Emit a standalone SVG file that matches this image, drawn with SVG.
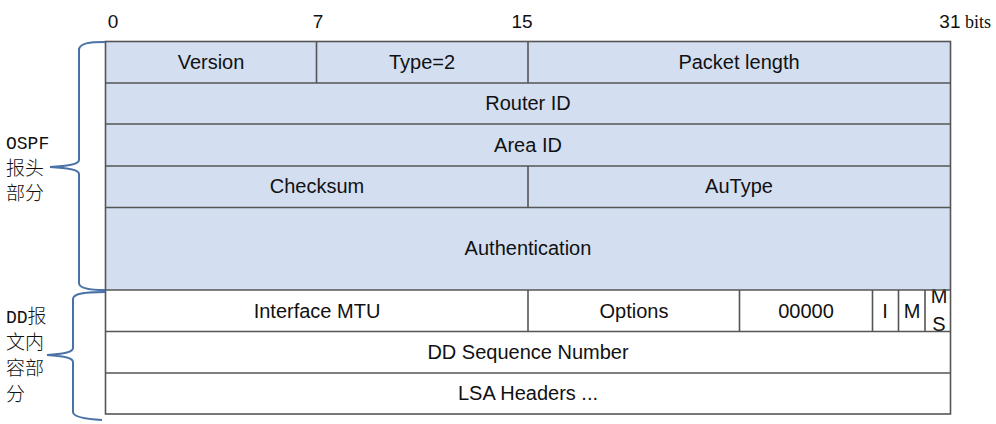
<svg xmlns="http://www.w3.org/2000/svg" width="996" height="424" viewBox="0 0 996 424">
<style>
.hdr{fill:#D3DFF1;stroke:none}
.ln{stroke:#555;stroke-width:1.6;fill:none}
.t{font-family:"Liberation Sans",Arial,sans-serif;font-size:20px;fill:#111;text-anchor:middle}
.b{font-family:"Liberation Sans",Arial,sans-serif;font-size:19px;fill:#111;text-anchor:middle}
.lab{font-family:"Liberation Mono","Noto Sans CJK SC",monospace;font-size:18px;fill:#111}
.cj{font-family:"Noto Sans CJK SC",sans-serif;font-size:19px;font-weight:300}
.br{stroke:#4A72A6;stroke-width:2;fill:none}
</style>
<rect width="996" height="424" fill="#fff"/>
<g id="bits">
<text class="b" x="113" y="28">0</text>
<text class="b" x="318" y="28">7</text>
<text class="b" x="522" y="28">15</text>
<text x="991" y="28" style="font-family:'Liberation Sans',sans-serif;font-size:19px;fill:#111;text-anchor:end">31<tspan style="font-family:'Liberation Serif',serif;font-size:18px"> bits</tspan></text>
</g>
<g id="header-bg"><rect class="hdr" x="105" y="41" width="846" height="249"/></g>
<g id="row-version"><text class="t" x="211" y="69">Version</text></g>
<g id="row-type"><text class="t" x="422" y="69">Type=2</text></g>
<g id="row-plen"><text class="t" x="739" y="69">Packet length</text></g>
<g id="row-router"><text class="t" x="528" y="110">Router ID</text></g>
<g id="row-area"><text class="t" x="528" y="152">Area ID</text></g>
<g id="row-checksum"><text class="t" x="317" y="193">Checksum</text></g>
<g id="row-autype"><text class="t" x="739" y="193">AuType</text></g>
<g id="row-auth"><text class="t" x="528" y="255">Authentication</text></g>
<g id="row-mtu"><text class="t" x="317" y="318">Interface MTU</text></g>
<g id="row-options"><text class="t" x="634" y="318">Options</text></g>
<g id="row-zeros"><text class="t" x="806" y="318">00000</text></g>
<g id="row-i"><text class="t" x="885" y="318">I</text></g>
<g id="row-m"><text class="t" x="912" y="318">M</text></g>
<g id="row-ms"><text class="t" x="939" y="303">M</text><text class="t" x="939" y="331">S</text></g>
<g id="row-seq"><text class="t" x="528" y="359">DD Sequence Number</text></g>
<g id="row-lsa"><text class="t" x="528" y="400">LSA Headers ...</text></g>
<g id="grid">
<rect class="ln" x="105.5" y="41.5" width="845" height="372.5"/>
<path class="ln" d="M105 83H951M105 124H951M105 166H951M105 207.5H951M105 290H951M105 331.5H951M105 373H951"/>
<path class="ln" d="M316.5 41V83M528 41V83M528 166V207.5M528 290V331.5M739.5 290V331.5M872.5 290V331.5M898.5 290V331.5M925 290V331.5"/>
</g>
<g id="connectors">
<path class="br" d="M105 42C90 42 79 43 79 50V160C79 164 70 166 50 167C70 168 79 170 79 174V283C79 288 90 290 105 290"/>
<path class="br" d="M105 292C88 292 73 293 73 299V348C73 352 65 354 47 355C65 356 73 358 73 362V412C73 417 85 419 102 420"/>
</g>
<g id="labels">
<text class="lab" x="6" y="149">OSPF</text>
<text class="lab cj" x="6" y="175">报头</text>
<text class="lab cj" x="6" y="200">部分</text>
<text class="lab" x="6" y="323">DD<tspan class="cj">报</tspan></text>
<text class="lab cj" x="6" y="349">文内</text>
<text class="lab cj" x="6" y="375">容部</text>
<text class="lab cj" x="6" y="401">分</text>
</g>
</svg>
